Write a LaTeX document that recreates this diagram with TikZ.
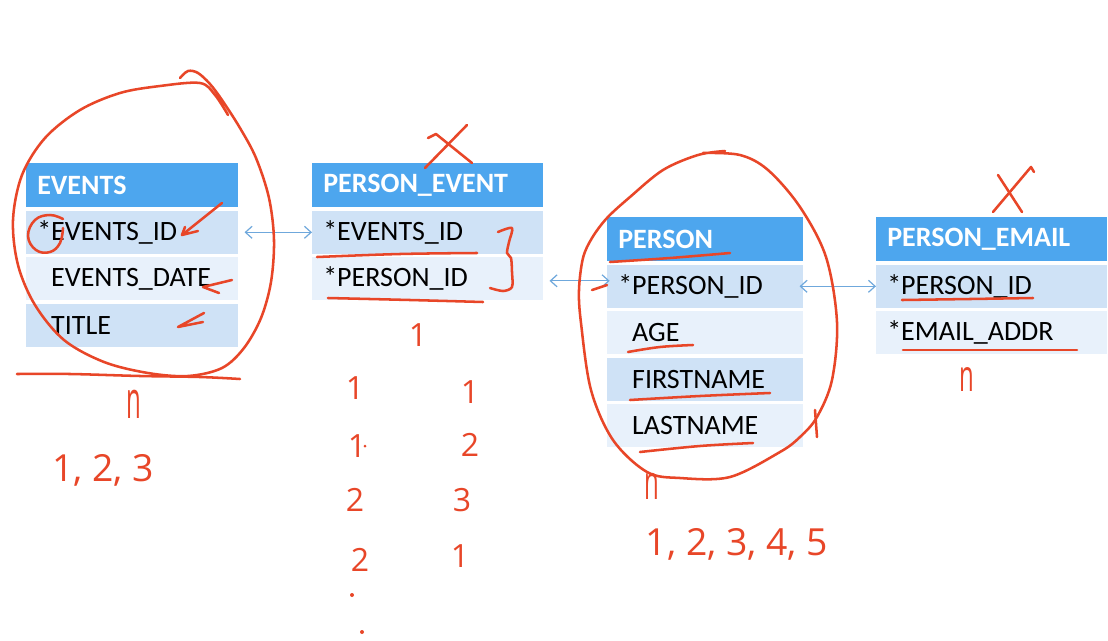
\documentclass[tikz,border=0pt]{standalone}
\usepackage{fontspec}
\setmainfont{Carlito}
\newfontfamily\handfont{Open Sans}
\usetikzlibrary{positioning,arrows.meta}
\definecolor{hdblue}{HTML}{4DA6EE}
\definecolor{rowdk}{HTML}{CFE2F6}
\definecolor{rowlt}{HTML}{E8F1FB}
\definecolor{linkblue}{HTML}{6FA8DC}
\definecolor{inkred}{HTML}{E84628}
\tikzset{
  tblhead/.style={anchor=north west,fill=hdblue,text=white,font=\fontsize{21}{25}\selectfont\bfseries,
    minimum height=33pt,inner xsep=8.25pt,inner ysep=0pt},
  tblrow/.style={anchor=north west,font=\fontsize{21}{25}\selectfont,
    minimum height=32.25pt,inner xsep=8.25pt,inner ysep=0pt},
  rowd/.style={tblrow,fill=rowdk},
  rowl/.style={tblrow,fill=rowlt},
  link/.style={draw=linkblue,line width=0.9pt,{Straight Barb[length=5pt,width=9pt]}-{Straight Barb[length=5pt,width=9pt]}},
  ink/.style={draw=inkred,line width=1.9pt,line cap=round,line join=round},
  hand/.style={text=inkred,font=\handfont\fontsize{#1}{#1}\selectfont,inner sep=0pt}
}
\begin{document}
\begin{tikzpicture}[x=0.75pt,y=-0.75pt]
\fill[white] (0,0) rectangle (1108,640);
\useasboundingbox (0,0) rectangle (1108,640);
% EVENTS
\node[tblhead,text width=142.5pt] (evhead) at (26,163) {EVENTS};
\node[rowd,text width=142.5pt,below right=2.25pt and 0pt of evhead.south west] (evid) {*EVENTS\_ID};
\node[rowl,text width=142.5pt,below right=2.25pt and 0pt of evid.south west] (evdate) {\hphantom{*}EVENTS\_DATE};
\node[rowd,text width=142.5pt,below right=2.25pt and 0pt of evdate.south west] (evtitle) {\hphantom{*}TITLE};
% PERSON_EVENT
\node[tblhead,text width=156.75pt] (pehead) at (312,163) {PERSON\_EVENT};
\node[rowd,text width=156.75pt,below right=2.25pt and 0pt of pehead.south west] (peevid) {*EVENTS\_ID};
\node[rowl,text width=156.75pt,below right=2.25pt and 0pt of peevid.south west] (pepid) {*PERSON\_ID};
% PERSON
\node[tblhead,text width=130.5pt] (phead) at (607,217) {PERSON};
\node[rowd,text width=130.5pt,below right=2.25pt and 0pt of phead.south west] (pid) {*PERSON\_ID};
\node[rowl,text width=130.5pt,below right=2.25pt and 0pt of pid.south west] (page) {\hphantom{*}AGE};
\node[rowd,text width=130.5pt,below right=2.25pt and 0pt of page.south west] (pfirst) {\hphantom{*}FIRSTNAME};
\node[rowl,text width=130.5pt,below right=2.25pt and 0pt of pfirst.south west] (plast) {\hphantom{*}LASTNAME};
% PERSON_EMAIL
\node[tblhead,text width=156.75pt] (emhead) at (876,217) {PERSON\_EMAIL};
\node[rowd,text width=156.75pt,below right=2.25pt and 0pt of emhead.south west] (empid) {*PERSON\_ID};
\node[rowl,text width=156.75pt,below right=2.25pt and 0pt of empid.south west] (emaddr) {*EMAIL\_ADDR};
% links
\draw[link,shorten <=4.5pt] (evid.east) -- (peevid.west);
\draw[link,shorten <=4.5pt,shorten >=-2pt] ([yshift=-1.5pt]pepid.east) -- ([yshift=-1.5pt]pepid.east -| pid.west);
\draw[link,shorten <=-3pt] (pid.east) -- (empid.west);
% red ink
\begin{scope}[ink]
\draw plot[smooth,tension=0.55] coordinates {(180,78) (188,71) (198,73) (210,84) (222,100) (240,128) (256,158) (269,198) (274,240) (271,282) (261,318) (244,348) (222,368) (188,376) (148,373) (104,362) (64,340) (35,305) (18,265) (13,220) (22,175) (45,138) (80,110) (120,93) (160,86) (200,83) (215,95) (228,115)};
\draw plot[smooth,tension=0.6] coordinates {(17,374) (70,374) (140,376) (200,377) (240,379)};
\draw plot[smooth,tension=0.7] coordinates {(63,219) (50,215) (35,220) (28,236) (36,250) (50,252) (60,243) (63,228)};
\draw (222,203) -- (182,235) -- (198,231);
\draw (185,227) -- (182,235);
\draw (232,280) -- (203,287) -- (219,293);
\draw (204,313) -- (178,327) -- (203,322);
\draw (428,138) -- (436,134) -- (472,163);
\draw (467,125) -- (425,168);
\draw plot[smooth,tension=0.6] coordinates {(317,257) (400,254) (477,253)};
\draw plot[smooth,tension=0.6] coordinates {(328,298) (410,300) (483,302)};
\draw plot[smooth,tension=0.5] coordinates {(498,232) (512,228) (509,242) (507,253) (511,258) (512,272) (512,287) (503,291) (490,288)};
\draw plot[smooth,tension=0.55] coordinates {(703,153) (740,155) (768,170) (800,207) (826,257) (837,322) (832,380) (817,417) (800,437) (780,452) (730,477) (680,478) (647,472) (613,440) (591,390) (581,323) (579,290) (583,258) (592,238) (607,218) (630,197) (663,170) (698,155) (725,151)};
\draw (815,410) -- (817,437);
\draw plot[smooth,tension=0.6] coordinates {(610,262) (670,258) (730,253)};
\draw (592,290) -- (607,285);
\draw plot[smooth,tension=0.6] coordinates {(628,352) (660,347) (693,345)};
\draw plot[smooth,tension=0.6] coordinates {(630,400) (700,396) (770,393)};
\draw plot[smooth,tension=0.6] coordinates {(640,452) (700,446) (753,443)};
\draw (993,212) -- (1031,167) -- (1034,172);
\draw (998,175) -- (1022,212);
\draw plot[smooth,tension=0.6] coordinates {(902,300) (970,299) (1033,298)};
\draw plot[smooth,tension=0.6] coordinates {(903,350) (990,350) (1077,350)};
\end{scope}
% handwritten numbers
\node[hand=30] (evn) at (134,404) {\scalebox{0.6}[1.3]{n}};
\node[hand=28] (evseq) at (103,470) {1, 2, 3};
\node[hand=24] (peone) at (418,335) {1};
\node[hand=24] (pl1) at (355,388) {1};
\node[hand=24] (pl2) at (357,446) {1};
\node[hand=24] (pl3) at (355,500) {2};
\node[hand=24] (pl4) at (360,560) {2};
\node[hand=24] (pr1) at (470,392) {1};
\node[hand=24] (pr2) at (470,445) {2};
\node[hand=24] (pr3) at (462,500) {3};
\node[hand=24] (pr4) at (460,556) {1};
\fill[inkred] (365,446) circle (1.5) (352,595) circle (2) (362,632) circle (2);
\node[hand=30] (pn) at (652,486) {\scalebox{0.6}[1.2]{n}};
\node[hand=28] (pseq) at (737,544) {1, 2, 3, 4, 5};
\node[hand=30] (emn) at (967,380) {\scalebox{0.6}[1.1]{n}};
\end{tikzpicture}
\end{document}
